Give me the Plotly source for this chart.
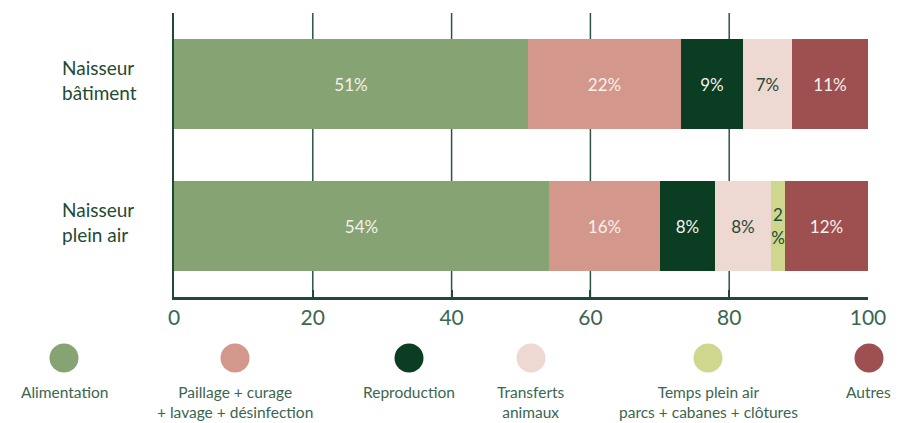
import plotly.graph_objects as go

# Cost breakdown (%) per farm type
categories = ["Naisseur bâtiment", "Naisseur plein air"]
category_labels = ["Naisseur<br>bâtiment", "Naisseur<br>plein air"]

series_names = [
    "Alimentation",
    "Paillage + curage + lavage + désinfection",
    "Reproduction",
    "Transferts animaux",
    "Temps plein air parcs + cabanes + clôtures",
    "Autres",
]
legend_labels = [
    "Alimentation",
    "Paillage + curage<br>+ lavage + désinfection",
    "Reproduction",
    "Transferts<br>animaux",
    "Temps plein air<br>parcs + cabanes + clôtures",
    "Autres",
]
alimentation = [51, 54]
paillage = [22, 16]
reproduction = [9, 8]
transferts = [7, 8]
temps_plein_air = [0, 2]
autres = [11, 12]

x_ticks = [0, 20, 40, 60, 80, 100]

colors = ["#86a373", "#d4978b", "#0a3d22", "#edd8d2", "#cfd78f", "#9e4f4f"]
label_colors = ["#f6f1ea", "#f6f1ea", "#f6f1ea", "#1f4a35", "#1f4a35", "#f6f1ea"]
dark = "#1f4a35"
soft = "#3b6650"

values = [alimentation, paillage, reproduction, transferts, temps_plein_air, autres]


def pct_text(v):
    if v == 0:
        return ""
    if v < 3:
        return f"{v}<br>%"
    return f"{v}%"


fig = go.Figure()
for name, vals, col, tcol in zip(series_names, values, colors, label_colors):
    fig.add_trace(go.Bar(
        y=categories, x=vals, name=name, orientation="h",
        marker=dict(color=col, line=dict(width=0)),
        text=[pct_text(v) for v in vals],
        textposition="inside", insidetextanchor="middle", textangle=0,
        textfont=dict(family="Lato", size=17, color=tcol),
        width=0.64, showlegend=False, hoverinfo="skip",
    ))

shapes = []
# vertical gridlines
for t in x_ticks[1:-1]:
    shapes.append(dict(type="line", xref="x", yref="paper", x0=t, x1=t, y0=0, y1=1,
                       line=dict(color="#2d5540", width=1.5), layer="below"))

W, H = 899, 423
ml, mr, mt, mb = 174, 31, 13, 126
pw, ph = W - ml - mr, H - mt - mb


def px_to_paper(px, py):
    return (px - ml) / pw, (H - mb - py) / ph


# legend: coloured dots with captions underneath
legend_x = [64, 235, 409, 531, 708, 869]
annotations = []
for lx, col, label in zip(legend_x, colors, legend_labels):
    ax, ay = px_to_paper(lx, 358)
    shapes.append(dict(type="circle", xref="paper", yref="paper",
                       xsizemode="pixel", ysizemode="pixel",
                       xanchor=ax, yanchor=ay, x0=-14.5, x1=14.5, y0=-14.5, y1=14.5,
                       fillcolor=col, line=dict(width=0)))
    tx, ty = px_to_paper(lx, 381)
    annotations.append(dict(xref="paper", yref="paper", x=tx, y=ty, text=label,
                            showarrow=False, xanchor="center", yanchor="top",
                            align="center",
                            font=dict(family="Lato", size=15.5, color=soft)))

# category labels, left-aligned
for cat, label in zip(categories, category_labels):
    annotations.append(dict(xref="paper", yref="y", x=(60 - ml) / pw, y=cat,
                            yshift=4, text=label, showarrow=False,
                            xanchor="left", yanchor="middle", align="left",
                            font=dict(family="Lato", size=19, color=dark)))

fig.update_layout(
    width=W, height=H, margin=dict(l=ml, r=mr, t=mt, b=mb),
    barmode="stack", bargap=0,
    paper_bgcolor="white", plot_bgcolor="white",
    uniformtext=dict(minsize=17, mode="show"),
    shapes=shapes, annotations=annotations,
    xaxis=dict(range=[0, 100], tickvals=x_ticks, showgrid=False, zeroline=False,
               showline=True, linecolor=dark, linewidth=2.5,
               ticks="inside", ticklen=7, tickwidth=2, tickcolor=dark,
               tickfont=dict(family="Lato", size=21, color=soft)),
    yaxis=dict(range=[1.5, -0.5], showticklabels=False, showgrid=False,
               zeroline=False, showline=True, linecolor=dark, linewidth=2, ticks=""),
)

fig.write_html("out.html")
